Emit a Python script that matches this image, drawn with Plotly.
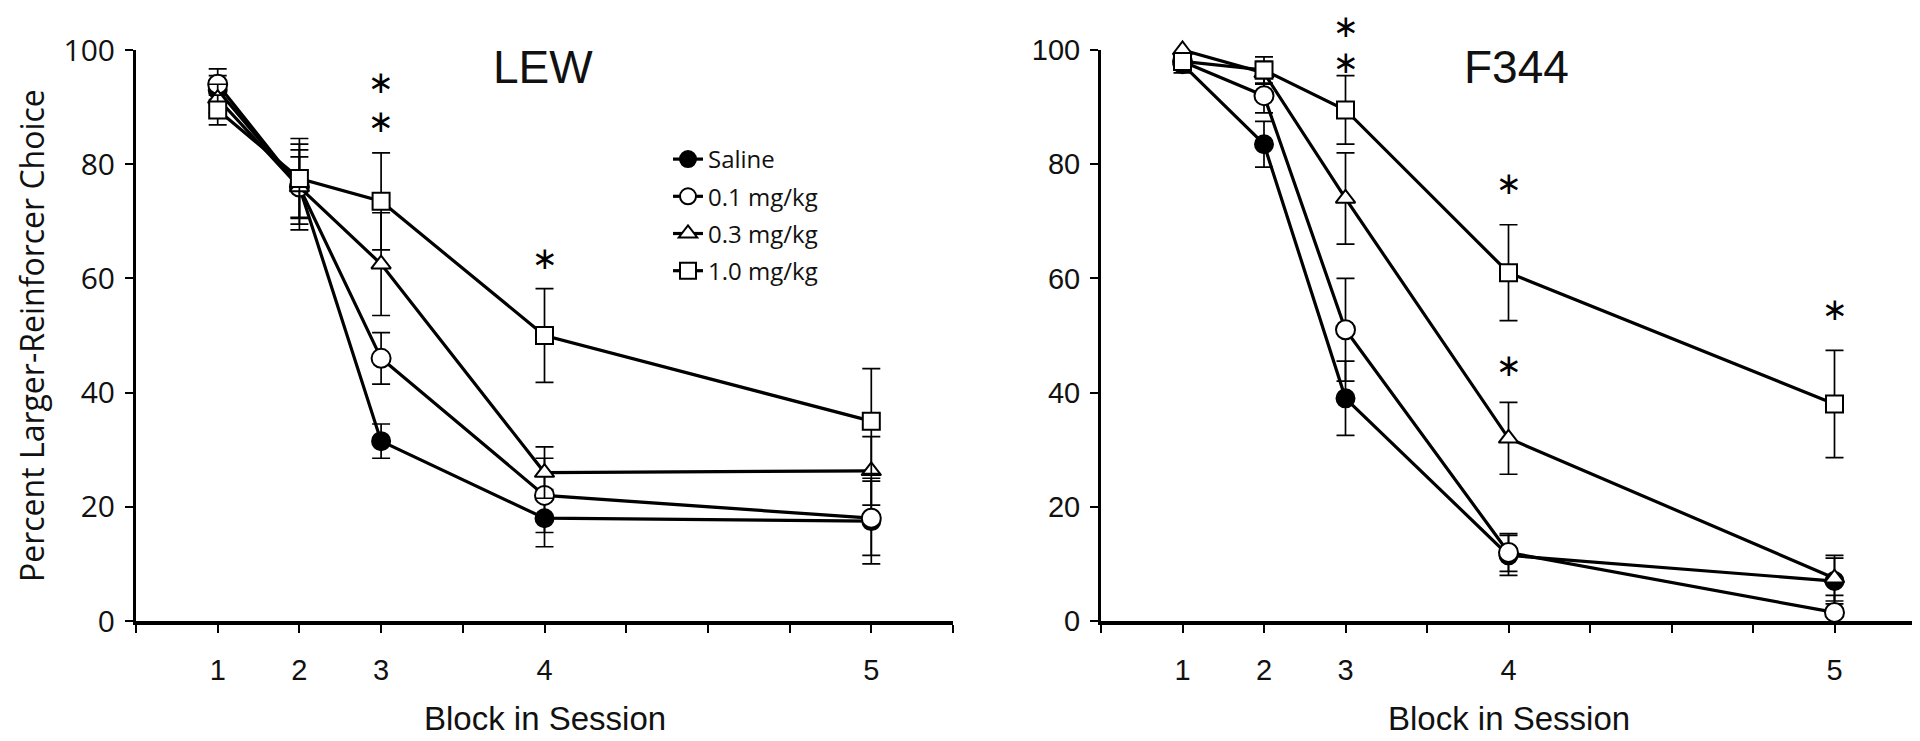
import plotly.graph_objects as go

# ---------------- data ----------------
blocks = ["1", "2", "3", "4", "5"]
block_pos = [1, 2, 3, 5, 9]          # position of each block on the session axis

series_names = ["Saline", "0.1 mg/kg", "0.3 mg/kg", "1.0 mg/kg"]

# LEW
lew_saline = [93.0, 76.0, 31.5, 18.0, 17.5]
lew_d01 = [94.0, 76.0, 46.0, 22.0, 18.0]
lew_d03 = [91.5, 76.0, 62.5, 26.0, 26.3]
lew_d10 = [89.5, 77.5, 73.5, 50.0, 35.0]
lew_saline_err = [2.5, 5.3, 3.0, 5.0, 7.5]
lew_d01_err = [2.7, 6.5, 4.5, 6.5, 6.5]
lew_d03_err = [2.5, 7.5, 9.0, 4.5, 6.0]
lew_d10_err = [2.6, 7.0, 8.5, 8.2, 9.2]

# F344
f344_saline = [97.5, 83.5, 39.0, 11.5, 7.0]
f344_d01 = [98.0, 92.0, 51.0, 12.0, 1.5]
f344_d03 = [100.0, 96.0, 74.0, 32.0, 7.5]
f344_d10 = [98.0, 96.5, 89.5, 61.0, 38.0]
f344_saline_err = [1.5, 4.0, 6.5, 3.5, 4.0]
f344_d01_err = [1.5, 3.0, 9.0, 3.3, 3.0]
f344_d03_err = [1.0, 2.0, 8.0, 6.3, 4.0]
f344_d10_err = [1.5, 2.3, 6.0, 8.4, 9.4]

# significance asterisks (block index, height in percent)
lew_star_block = [3, 3, 4]
lew_star_y = [94.4, 87.5, 63.5]
f344_star_block = [3, 3, 4, 4, 5]
f344_star_y = [104.2, 97.9, 76.7, 44.9, 54.7]

y_ticks = [0, 20, 40, 60, 80, 100]

# ---------------- styles ----------------
symbols = ["circle", "circle", "triangle-up", "square"]
fills = ["black", "white", "white", "white"]
msizes = [18, 19, 17, 17]

panels = [
    ("x", "y", [lew_saline, lew_d01, lew_d03, lew_d10],
     [lew_saline_err, lew_d01_err, lew_d03_err, lew_d10_err]),
    ("x2", "y2", [f344_saline, f344_d01, f344_d03, f344_d10],
     [f344_saline_err, f344_d01_err, f344_d03_err, f344_d10_err]),
]

fig = go.Figure()
for p, (xa, ya, vals, errs) in enumerate(panels):
    for i, name in enumerate(series_names):
        fig.add_trace(go.Scatter(
            x=block_pos, y=vals[i], mode="lines+markers", name=name,
            legendgroup=name, showlegend=(p == 0),
            line=dict(color="black", width=3.2),
            marker=dict(symbol=symbols[i], size=msizes[i], color=fills[i],
                        line=dict(color="black", width=2)),
            error_y=dict(type="data", array=errs[i], color="black",
                         thickness=1.7, width=9),
            xaxis=xa, yaxis=ya, cliponaxis=False,
        ))

# page is offset by the 8px body margin; work in page pixels
OFF = 8
W, H = 1920 - OFF, 741 - OFF
L, R, T, B = 136 - OFF, 4, 50 - OFF, H - (621 - OFF)
pw = W - L - R
ph = H - T - B


def px_x(page_x):
    return (page_x - OFF - L) / pw


def px_y(page_y):
    return (H - B - (page_y - OFF)) / ph


xcommon = dict(range=[0, 10], showline=True, linewidth=3.5, linecolor="black",
               ticks="outside", tickvals=block_pos, ticktext=blocks,
               ticklen=8, tickwidth=2, tickcolor="black",
               minor=dict(tick0=0, dtick=1, ticks="outside", ticklen=8,
                          tickwidth=2, tickcolor="black"),
               showgrid=False, zeroline=False,
               tickfont=dict(family="Liberation Sans, Arial", size=29, color="#111"),
               ticklabelstandoff=12)
ycommon = dict(range=[0, 100], tickvals=y_ticks, showline=True, linewidth=3,
               linecolor="black", ticks="outside", ticklen=8, tickwidth=2,
               tickcolor="black", showgrid=False, zeroline=False,
               ticklabelstandoff=4)

fig.update_layout(
    width=W, height=H,
    margin=dict(l=L, r=R, t=T, b=B),
    paper_bgcolor="white", plot_bgcolor="white",
    xaxis=dict(domain=[0, px_x(953)], anchor="y", **xcommon),
    xaxis2=dict(domain=[px_x(1101), 1], anchor="y2", **xcommon),
    yaxis=dict(domain=[0, 1], anchor="x",
               tickfont=dict(family="Open Sans", size=30, color="#111"), **ycommon),
    yaxis2=dict(domain=[0, 1], anchor="x2",
                tickfont=dict(family="Liberation Sans, Arial", size=29, color="#111"),
                **ycommon),
    legend=dict(x=px_x(668), y=px_y(137), xanchor="left", yanchor="top",
                font=dict(family="Open Sans", size=24, color="#111"),
                bgcolor="rgba(0,0,0,0)", tracegroupgap=3),
    showlegend=True,
)

ann = []
ann.append(dict(text="LEW", x=px_x(543), y=px_y(67), xref="paper", yref="paper",
                xanchor="center", yanchor="middle", showarrow=False,
                font=dict(family="Liberation Sans, Arial", size=46, color="#111")))
ann.append(dict(text="F344", x=px_x(1516), y=px_y(67), xref="paper", yref="paper",
                xanchor="center", yanchor="middle", showarrow=False,
                font=dict(family="Liberation Sans, Arial", size=46, color="#111")))
ann.append(dict(text="Percent Larger-Reinforcer Choice", textangle=-90,
                x=px_x(31), y=px_y(336), xref="paper", yref="paper",
                xanchor="center", yanchor="middle", showarrow=False,
                font=dict(family="Open Sans", size=32, color="#111")))
for xr in ["x domain", "x2 domain"]:
    ann.append(dict(text="Block in Session", x=0.5, y=px_y(718), xref=xr, yref="paper",
                    xanchor="center", yanchor="middle", showarrow=False,
                    font=dict(family="Liberation Sans, Arial", size=33, color="#111")))
for xr, yr, sb, sy in [("x", "y domain", lew_star_block, lew_star_y),
                       ("x2", "y2 domain", f344_star_block, f344_star_y)]:
    for bl, yv in zip(sb, sy):
        ann.append(dict(text="∗", x=block_pos[bl - 1], y=yv / 100.0, xref=xr, yref=yr,
                        xanchor="center", yanchor="middle", showarrow=False,
                        font=dict(family="DejaVu Sans", size=31, color="black")))
fig.update_layout(annotations=ann)

fig.write_html("out.html")
